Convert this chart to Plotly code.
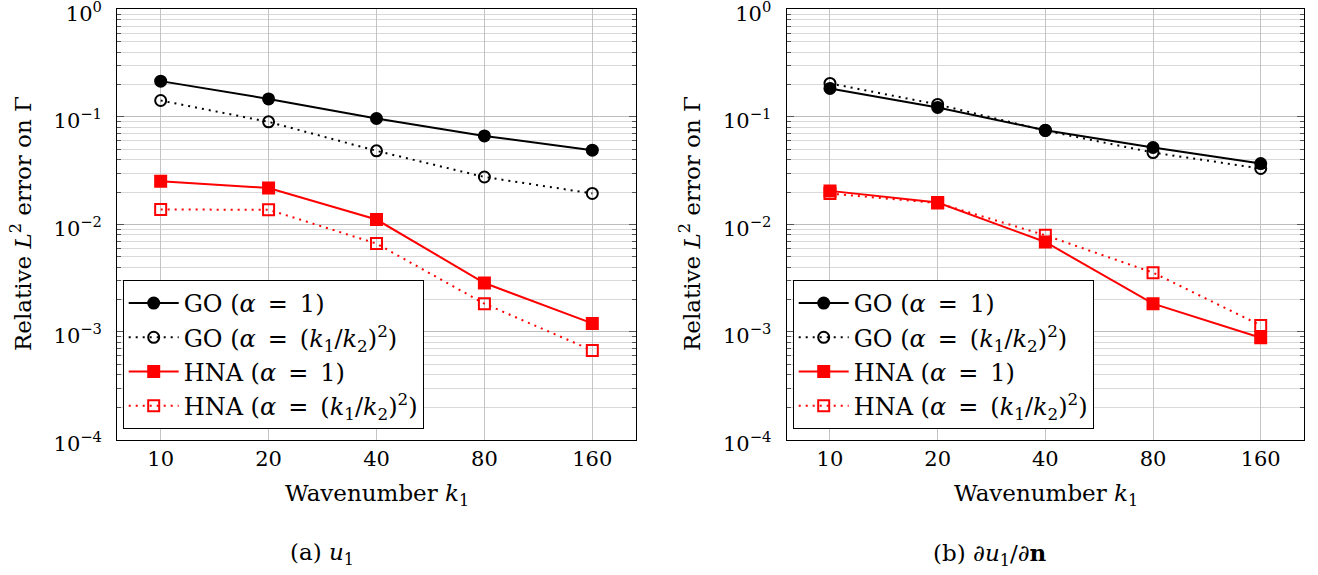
import plotly.graph_objects as go

# ---- data ----
k1 = [10, 20, 40, 80, 160]
k_labels = ["10", "20", "40", "80", "160"]

# (a) u1
a_go_1 = [0.215, 0.147, 0.0966, 0.0665, 0.049]
a_go_k = [0.142, 0.0899, 0.0483, 0.0276, 0.0194]
a_hna_1 = [0.0252, 0.0218, 0.0111, 0.00285, 0.0012]
a_hna_k = [0.01374, 0.0137, 0.00663, 0.00183, 0.000673]

# (b) du1/dn
b_go_1 = [0.184, 0.1224, 0.0752, 0.0519, 0.0368]
b_go_k = [0.2047, 0.1305, 0.0745, 0.0466, 0.0331]
b_hna_1 = [0.0205, 0.01596, 0.00686, 0.00183, 0.000883]
b_hna_k = [0.01936, 0.0158, 0.00792, 0.00356, 0.00115]

y_tickvals = [1e-4, 1e-3, 1e-2, 1e-1, 1e0]
y_ticktext = ["10<sup>−4</sup>", "10<sup>−3</sup>", "10<sup>−2</sup>", "10<sup>−1</sup>", "10<sup>0</sup>"]

EQ = "\u2002=\u2002"
names = [
    f"GO (<i>α</i>{EQ}1)",
    f"GO (<i>α</i>{EQ}(<i>k</i><sub>1</sub>/<i>k</i><sub>2</sub>)<sup>2</sup>)",
    f"HNA (<i>α</i>{EQ}1)",
    f"HNA (<i>α</i>{EQ}(<i>k</i><sub>1</sub>/<i>k</i><sub>2</sub>)<sup>2</sup>)",
]

FONT = "DejaVu Serif"
FS_TICK = 21
FS = 23

styles = [
    dict(color="black", dash="solid", symbol="circle", size=13, lw=0),
    dict(color="black", dash="2px,5px", symbol="circle-open", size=11, lw=2),
    dict(color="#ff0000", dash="solid", symbol="square", size=13, lw=0),
    dict(color="#ff0000", dash="2px,5px", symbol="square-open", size=11, lw=2),
]

fig = go.Figure()

panels = [
    ("x", "y", "legend", [a_go_1, a_go_k, a_hna_1, a_hna_k]),
    ("x2", "y2", "legend2", [b_go_1, b_go_k, b_hna_1, b_hna_k]),
]

for xa, ya, lg, series in panels:
    for i, (vals, st) in enumerate(zip(series, styles)):
        fig.add_trace(go.Scatter(
            x=k1, y=vals, mode="lines+markers", name=names[i],
            xaxis=xa, yaxis=ya, legend=lg,
            legendgroup=f"{lg}_{i}",
            line=dict(color=st["color"], width=2, dash=st["dash"]),
            marker=dict(symbol=st["symbol"], size=st["size"], color=st["color"],
                        line=dict(color=st["color"], width=st["lw"])),
        ))

W, H = 1318, 575
top_px, bot_px = 9.3, 439.5
left_dom = [117.3 / W, 636.0 / W]
right_dom = [786.7 / W, 1304.3 / W]
y_dom = [1 - bot_px / H, 1 - top_px / H]

xaxis_common = dict(
    type="log", range=[0.879, 2.326],
    tickvals=k1, ticktext=k_labels,
    showgrid=True, gridcolor="#c4c4c4", gridwidth=1,
    ticks="inside", ticklen=5, tickcolor="#c4c4c4",
    showline=True, linecolor="black", linewidth=1.3, mirror=True,
    tickfont=dict(family=FONT, size=FS_TICK, color="black"),
    zeroline=False, ticklabelstandoff=0, automargin=False,
)
yaxis_common = dict(
    type="log", range=[-4.0005, 0.0005],
    tickvals=y_tickvals, ticktext=y_ticktext,
    showgrid=True, gridcolor="#bdbdbd", gridwidth=1,
    ticks="inside", ticklen=7, tickcolor="#555555",
    minor=dict(dtick="D1", showgrid=True, gridcolor="#d9d9d9", gridwidth=1,
               ticks="inside", ticklen=4, tickcolor="#555555"),
    showline=True, linecolor="black", linewidth=1.3, mirror="allticks",
    tickfont=dict(family=FONT, size=FS_TICK, color="black"),
    zeroline=False, ticklabelstandoff=10, ticklabelshift=4,
    ticklabeloverflow="allow", automargin=False,
)

legend_common = dict(
    xanchor="left", yanchor="top",
    bgcolor="white", bordercolor="black", borderwidth=1,
    font=dict(family=FONT, size=24, color="black"),
    traceorder="grouped", tracegroupgap=0, itemwidth=50,
)

fig.update_layout(
    width=W, height=H,
    margin=dict(l=0, r=0, t=0, b=0),
    paper_bgcolor="white", plot_bgcolor="white",
    font=dict(family=FONT, size=FS, color="black"),
    xaxis=dict(domain=left_dom, anchor="y", **xaxis_common),
    yaxis=dict(domain=y_dom, anchor="x", **yaxis_common),
    xaxis2=dict(domain=right_dom, anchor="y2", **xaxis_common),
    yaxis2=dict(domain=y_dom, anchor="x2", **yaxis_common),
    legend=dict(x=122.7 / W, y=1 - 280 / H, **legend_common),
    legend2=dict(x=792.7 / W, y=1 - 280 / H, **legend_common),
    showlegend=True,
)

ann_font = dict(family=FONT, size=FS, color="black")
annotations = [
    dict(text="Relative <i>L</i><sup>2</sup> error on Γ", x=21 / W, y=1 - 224 / H,
         textangle=-90, showarrow=False, xref="paper", yref="paper",
         xanchor="center", yanchor="middle", font=ann_font),
    dict(text="Relative <i>L</i><sup>2</sup> error on Γ", x=690 / W, y=1 - 224 / H,
         textangle=-90, showarrow=False, xref="paper", yref="paper",
         xanchor="center", yanchor="middle", font=ann_font),
    dict(text="Wavenumber <i>k</i><sub>1</sub>", x=376.7 / W, y=1 - 495 / H,
         showarrow=False, xref="paper", yref="paper",
         xanchor="center", yanchor="middle", font=ann_font),
    dict(text="Wavenumber <i>k</i><sub>1</sub>", x=1045.5 / W, y=1 - 495 / H,
         showarrow=False, xref="paper", yref="paper",
         xanchor="center", yanchor="middle", font=ann_font),
    dict(text="(a) <i>u</i><sub>1</sub>", x=322 / W, y=1 - 554 / H,
         showarrow=False, xref="paper", yref="paper",
         xanchor="center", yanchor="middle", font=ann_font),
    dict(text="(b) ∂<i>u</i><sub>1</sub>/∂<b>n</b>", x=990 / W, y=1 - 554 / H,
         showarrow=False, xref="paper", yref="paper",
         xanchor="center", yanchor="middle", font=ann_font),
]
fig.update_layout(annotations=annotations)

fig.write_html(
    "out.html",
    config={"displayModeBar": False},
    post_script="document.body.style.margin='0';document.body.style.overflow='hidden';",
)
